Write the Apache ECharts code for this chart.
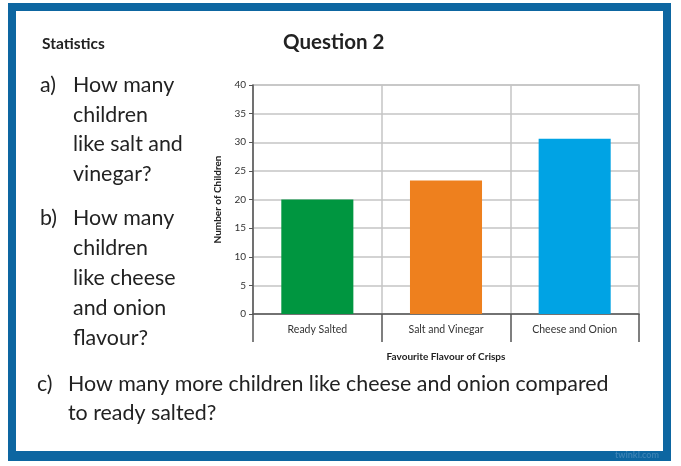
<!DOCTYPE html>
<html><head><meta charset="utf-8">
<script src="https://cdn.jsdelivr.net/npm/echarts@6/dist/echarts.min.js"></script>
<style>html,body{margin:0;padding:0;background:#fff}#c{width:681px;height:466px}</style>
</head><body><div id="c"></div>
<script>
const categories = ['Ready Salted', 'Salt and Vinegar', 'Cheese and Onion'];
const values = [20, 23.3, 30.6];
const barColors = ['#009640', '#ee801e', '#00a3e4'];
const yTicks = { min: 0, max: 40, interval: 5 };
const questionA = ['How many', 'children', 'like salt and', 'vinegar?'];
const questionB = ['How many', 'children', 'like cheese', 'and onion', 'flavour?'];
const questionC = ['How many more children like cheese and onion compared', 'to ready salted?'];

const FONT = 'Lato';
const textColor = '#222';
const g = [
  { type: 'rect', z: -10, shape: { x: 8, y: 3, width: 663, height: 458 }, style: { fill: '#0d66a1' } },
  { type: 'rect', z: -9, shape: { x: 16, y: 11, width: 647, height: 440 }, style: { fill: '#fff' } },
  { type: 'text', x: 42, y: 44, style: { text: 'Statistics', font: 'bold 15.5px ' + FONT, fill: textColor, verticalAlign: 'middle' } },
  { type: 'text', x: 283, y: 42, style: { text: 'Question 2', font: 'bold 20.5px ' + FONT, fill: textColor, verticalAlign: 'middle' } },
  { type: 'text', right: 22, top: 451, style: { text: 'twinkl.com', font: 'bold 9px ' + FONT, fill: '#3a82b5' } }
];
const QF = '21.4px ' + FONT;
function addBlock(label, lines, x0, y0, dy) {
  g.push({ type: 'text', x: x0, y: y0, style: { text: label, font: QF, fill: textColor, verticalAlign: 'middle' } });
  lines.forEach((t, i) => g.push({ type: 'text', x: x0 + 33, y: y0 + i * dy, style: { text: t, font: QF, fill: textColor, verticalAlign: 'middle' } }));
}
addBlock('a)', questionA, 40, 85, 29.7);
addBlock('b)', questionB, 40, 218, 30);
g.push({ type: 'text', x: 37, y: 384, style: { text: 'c)', font: QF, fill: textColor, verticalAlign: 'middle' } });
questionC.forEach((t, i) => g.push({ type: 'text', x: 68, y: 384 + i * 29, style: { text: t, font: QF, fill: textColor, verticalAlign: 'middle' } }));

const chart = echarts.init(document.getElementById('c'));
chart.setOption({
  animation: false,
  graphic: g,
  grid: { left: 253, top: 85, right: 42, bottom: 152, show: true, borderColor: '#c4c4c4', borderWidth: 1.5, backgroundColor: 'transparent' },
  xAxis: {
    type: 'category', data: categories,
    name: 'Favourite Flavour of Crisps', nameLocation: 'middle', nameGap: 38,
    nameTextStyle: { fontFamily: FONT, fontWeight: 'bold', fontSize: 10, color: '#222' },
    axisLine: { show: true, lineStyle: { color: '#555', width: 1.5 } },
    axisTick: { show: true, inside: false, length: 28, interval: 0, lineStyle: { color: '#555', width: 1.5 } },
    axisLabel: { fontFamily: FONT, fontSize: 10.5, color: '#333', margin: 10 },
    splitLine: { show: true, interval: 0, lineStyle: { color: '#c4c4c4', width: 1.5 } }
  },
  yAxis: {
    type: 'value', min: yTicks.min, max: yTicks.max, interval: yTicks.interval,
    name: 'Number of Children', nameLocation: 'middle', nameGap: 30,
    nameTextStyle: { fontFamily: FONT, fontWeight: 'bold', fontSize: 10, color: '#222' },
    axisLine: { show: true, lineStyle: { color: '#555', width: 1.5 } },
    axisTick: { show: true, length: 4, lineStyle: { color: '#555' } },
    axisLabel: { fontFamily: FONT, fontSize: 10, color: '#333', margin: 7 },
    splitLine: { show: true, lineStyle: { color: '#c4c4c4', width: 1.5 } }
  },
  series: [{
    type: 'bar', barWidth: '56%',
    data: values.map((v, i) => ({ value: v, itemStyle: { color: barColors[i] } }))
  }]
});
</script></body></html>
